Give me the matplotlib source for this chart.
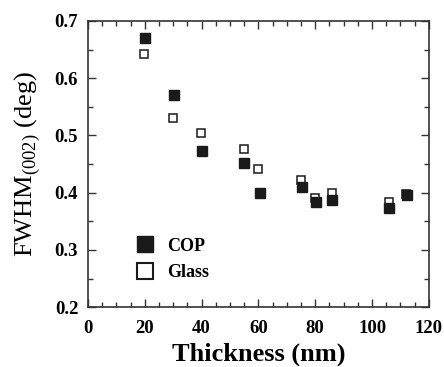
import numpy as np
import matplotlib
matplotlib.use("Agg")
import matplotlib.pyplot as plt
from matplotlib.ticker import MultipleLocator
from matplotlib.lines import Line2D

plt.rcParams['font.family'] = ['Liberation Serif', 'DejaVu Serif']
plt.rcParams['mathtext.fontset'] = 'custom'
plt.rcParams['mathtext.rm'] = 'Liberation Serif'

# donnees
cop_x = [20, 30.4, 40.2, 55, 60.4, 75.2, 80.1, 86, 106, 112.2]
cop_y = [0.670, 0.570, 0.472, 0.451, 0.400, 0.410, 0.383, 0.388, 0.373, 0.396]
glass_x = [19.8, 29.9, 39.9, 55, 59.9, 74.9, 80, 85.8, 105.9, 112]
glass_y = [0.642, 0.530, 0.504, 0.476, 0.442, 0.422, 0.390, 0.399, 0.383, 0.398]

fig = plt.figure(figsize=(4.44, 3.67), dpi=100)
ax = fig.add_axes([0.198, 0.163, 0.768, 0.780])

ax.plot(glass_x, glass_y, 's', ms=5.2, mfc='white', mec='#1a1a1a', mew=1.1, zorder=2)
ax.plot(cop_x, cop_y, 's', ms=6.6, mfc='#1a1a1a', mec='#1a1a1a', zorder=3)

ax.set_xlim(0, 120)
ax.set_ylim(0.2, 0.7)
ax.xaxis.set_major_locator(MultipleLocator(20))
ax.xaxis.set_minor_locator(MultipleLocator(5))
ax.yaxis.set_major_locator(MultipleLocator(0.1))
ax.yaxis.set_minor_locator(MultipleLocator(0.05))
ax.tick_params(which='both', direction='in', top=True, right=True, color='#333333', width=1)
ax.tick_params(which='major', length=6, labelsize=13.5)
ax.tick_params(axis='x', which='major', pad=9)
ax.tick_params(axis='y', which='major', pad=7)
ax.tick_params(which='minor', length=3.5)
for lab in ax.get_xticklabels() + ax.get_yticklabels():
    lab.set_fontweight('bold')
for s in ax.spines.values():
    s.set_color('#333333')
    s.set_linewidth(1.2)

ax.set_xlabel('Thickness (nm)', fontsize=19, fontweight='bold', labelpad=4)
ax.set_ylabel(r'FWHM$_{\mathrm{(002)}}$ (deg)', fontsize=19, labelpad=8)

handles = [Line2D([], [], ls='none', marker='s', ms=12, mfc='#1a1a1a', mec='#1a1a1a'),
           Line2D([], [], ls='none', marker='s', ms=11, mfc='white', mec='#1a1a1a', mew=1.5)]
leg = ax.legend(handles, ['COP', 'Glass'], loc='upper left', bbox_to_anchor=(0.105, 0.30),
                frameon=False, handlelength=0.6, handletextpad=0.9,
                labelspacing=0.55, prop={'weight': 'bold', 'size': 13})

fig.savefig('out.png', dpi=100)
